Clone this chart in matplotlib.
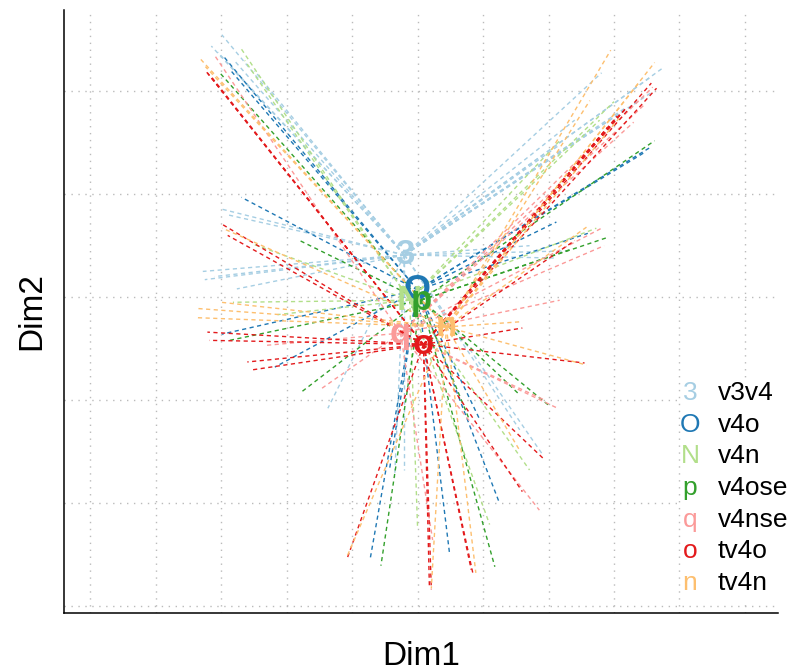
import numpy as np
import matplotlib
matplotlib.use("Agg")
import matplotlib.pyplot as plt
from matplotlib.patches import Rectangle

plt.rcParams['font.family'] = ['Liberation Sans', 'DejaVu Sans']

groups = ["v3v4", "v4o", "v4n", "v4ose", "v4nse", "tv4o", "tv4n"]
letters = ["3", "O", "N", "p", "q", "o", "n"]
colors = ["#A6CEE3", "#1F78B4", "#B2DF8A", "#33A02C", "#FB9A99", "#E31A1C", "#FDBF6F"]

# group centres (Dim1, Dim2)
cen_x = [-0.20, 0.00, -0.12, 0.05, -0.26, 0.09, 0.44]
cen_y = [0.41, 0.07, -0.03, -0.03, -0.35, -0.46, -0.29]

# individuals of each group
v3v4_x = [3.73, 3.54, 2.81, 3.39, 2.40, 2.17, 3.60, 3.20, 2.60, -2.99, -3.15, -3.05, -2.49, -2.80,
          -3.02, -2.90, -3.28, -3.25, -2.76, -3.10, 2.09, 1.71, 2.30, -1.37, -0.20, -0.35, 1.91, 1.56]
v3v4_y = [2.22, 2.13, 2.18, 1.91, 1.72, 1.48, 2.00, 1.85, 1.60, 2.55, 2.44, 2.38, 2.20, 2.30,
          0.86, 0.80, 0.25, 0.17, 0.08, 0.20, 0.38, 0.50, 0.45, -1.08, -1.68, -1.75, -1.53, -1.29]

v4o_x = [-2.95, -2.85, -2.69, -2.99, -2.18, -0.72, 0.49, 1.25, 3.54, 3.45, 2.60, 2.12, 0.95, -0.43]
v4o_y = [2.33, 2.20, 0.97, -0.36, -0.68, -2.53, -2.50, -2.00, 1.45, 1.40, 0.62, 0.73, -1.19, -1.68]

v4n_x = [-2.70, -2.64, -2.49, -2.82, -2.14, 0.00, 1.10, 2.73, 2.78, 2.17, 1.71, 3.00]
v4n_y = [2.42, 2.30, 0.51, -0.05, -0.17, -2.24, -2.21, 0.67, 1.72, 1.52, -1.68, 1.90]

v4ose_x = [-3.02, -2.87, -1.77, -0.56, 1.18, 3.62, 2.90, 2.32, 1.56, 0.79, -1.80, 2.00]
v4ose_y = [2.18, -0.42, -0.92, -2.61, -2.62, 1.52, 0.58, 0.46, -0.95, -1.19, 0.55, -1.05]

v4nse_x = [-3.10, -1.47, 0.23, 1.86, 2.14, 1.94, 3.59, 3.48, 2.81, 2.85, -2.34, 2.17, 3.30]
v4nse_y = [2.35, -0.89, -2.36, -2.07, -1.08, -1.00, 2.04, 1.88, 0.67, 0.50, -0.47, -0.03, 1.70]

tv4o_x = [-3.25, -3.16, -3.21, -2.99, -2.90, -3.21, -3.18, -2.60, -2.56, -1.07, 0.21, 0.18, 0.85,
          0.82, 1.60, 1.94, 2.55, 1.60, 3.57, 3.65, 3.16, 3.11, 3.05, 2.40, 3.20, 2.90]
tv4o_y = [2.21, 2.15, 2.18, 0.71, 0.60, -0.34, -0.42, -0.63, -0.71, -2.53, -2.84, -2.80, -2.70,
          -2.65, -1.89, -1.58, -0.64, -0.30, 2.08, 2.03, 1.82, 1.79, 1.76, 0.55, 1.85, 1.65]

tv4n_x = [-3.31, -3.24, -2.98, -3.37, -3.36, -3.00, -1.07, 0.21, 0.89, 1.56, 2.58, 2.95, 3.62,
          2.63, 3.08, 2.58, 1.56, 3.40]
tv4n_y = [2.31, 2.24, 0.67, -0.11, -0.20, -0.05, -2.51, -2.83, -2.68, -0.24, -0.66, 2.40, 2.28,
          1.91, 1.74, 0.68, -1.49, 2.10]

ind_x = [v3v4_x, v4o_x, v4n_x, v4ose_x, v4nse_x, tv4o_x, tv4n_x]
ind_y = [v3v4_y, v4o_y, v4n_y, v4ose_y, v4nse_y, tv4o_y, tv4n_y]

fig = plt.figure(figsize=(7.96, 6.71), dpi=100)
ax = fig.add_axes([0.0804, 0.0864, 0.8966, 0.8986])

for k in range(len(groups)):
    for xi, yi in zip(ind_x[k], ind_y[k]):
        ax.plot([cen_x[k], xi], [cen_y[k], yi], color=colors[k], lw=1.0,
                linestyle=(0, (3, 2.5)), zorder=2)

for k in range(len(groups)):
    ax.text(cen_x[k], cen_y[k], letters[k], color=colors[k], fontsize=25,
            fontweight='bold', ha='center', va='center', zorder=4)

ax.set_xlim(-5.40, 5.50)
ax.set_ylim(-3.07, 2.79)
ax.set_xticks(np.arange(-5, 6, 1))
ax.set_yticks(np.arange(-3, 3, 1))
ax.tick_params(length=0, labelbottom=False, labelleft=False)
ax.grid(True, color='#BBBBBB', lw=1.0, linestyle=(0, (1, 4)))
ax.set_axisbelow(True)
for s in ['top', 'right']:
    ax.spines[s].set_visible(False)
for s in ['left', 'bottom']:
    ax.spines[s].set_linewidth(1.1)

ax.set_xlabel("Dim1", fontsize=24, labelpad=20)
ax.set_ylabel("Dim2", fontsize=24, labelpad=12)

# legend
ax.add_patch(Rectangle((0.866, 0.02), 0.14, 0.37, transform=ax.transAxes,
                       facecolor='white', edgecolor='none', zorder=5))
for k in range(len(groups)):
    yy = 0.365 - k * 0.0525
    ax.text(0.877, yy, letters[k], color=colors[k], fontsize=19,
            ha='center', va='center', transform=ax.transAxes, zorder=6)
    ax.text(0.916, yy, groups[k], color='black', fontsize=19,
            ha='left', va='center', transform=ax.transAxes, zorder=6)

fig.savefig("out.png", dpi=100)
